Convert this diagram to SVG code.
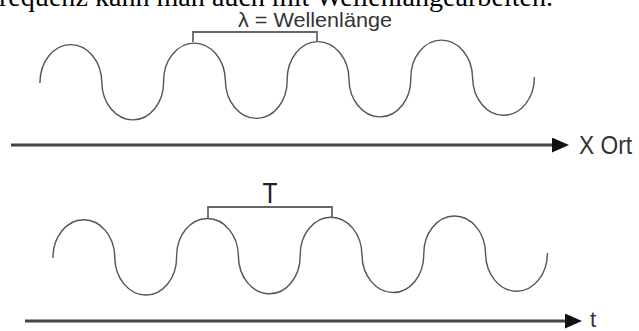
<svg xmlns="http://www.w3.org/2000/svg" xmlns:xlink="http://www.w3.org/1999/xlink" width="639" height="331" viewBox="0 0 639 331">
<style>
.wave{fill:none;stroke:#555;stroke-width:1.4}
.brk{fill:none;stroke:#666;stroke-width:1.8}
.axis{fill:none;stroke:#444;stroke-width:3;marker-end:url(#arr)}
.lbl{font-family:"Liberation Sans",Arial,sans-serif;fill:#333}
.top{font-family:"Liberation Serif","Times New Roman",serif;fill:#000}
</style>
<defs>
<marker id="arr" markerUnits="userSpaceOnUse" markerWidth="18" markerHeight="16" refX="0" refY="7.5" orient="auto">
<path d="M0,0 L17,7.5 L0,15 Z" fill="#111"/>
</marker>
<path id="wavePath" d="M0,0 A30.9,38 0 0 1 61.8,0 A30.9,38 0 0 0 123.6,0 A30.9,38 0 0 1 185.4,0 A30.9,38 0 0 0 247.2,0 A30.9,38 0 0 1 309,0 A30.9,38 0 0 0 370.8,0 A30.9,38 0 0 1 432.6,0 A30.9,38 0 0 0 494.4,0"/>
</defs>
<text class="top" x="-1" y="6" font-size="27.5" textLength="554" lengthAdjust="spacingAndGlyphs">requenz kann man auch mit Wellenlängearbeiten.</text>
<g id="wave-x">
<use xlink:href="#wavePath" class="wave" transform="translate(40,83) rotate(-0.7)"/>
</g>
<g id="wavelength">
<path class="brk" d="M193,42 V32 H317 V42"/>
<text class="lbl" x="238" y="27" font-size="21" textLength="154" lengthAdjust="spacingAndGlyphs">λ = Wellenlänge</text>
</g>
<g id="wave-t">
<use xlink:href="#wavePath" class="wave" transform="translate(53,258) rotate(-0.58)"/>
</g>
<g id="period">
<path class="brk" d="M208,218 V207 H332 V218"/>
<text class="lbl" x="270" y="203" font-size="29" text-anchor="middle" textLength="15" lengthAdjust="spacingAndGlyphs" style="fill:#222">T</text>
</g>
<g id="connectors">
<line class="axis" x1="11" y1="145" x2="552" y2="145"/>
<line class="axis" x1="25" y1="321" x2="565" y2="321"/>
</g>
<g id="label-x">
<text class="lbl" x="579" y="154" font-size="26" textLength="53" lengthAdjust="spacingAndGlyphs">X Ort</text>
</g>
<g id="label-t">
<text class="lbl" x="590" y="327" font-size="22">t</text>
</g>
</svg>
